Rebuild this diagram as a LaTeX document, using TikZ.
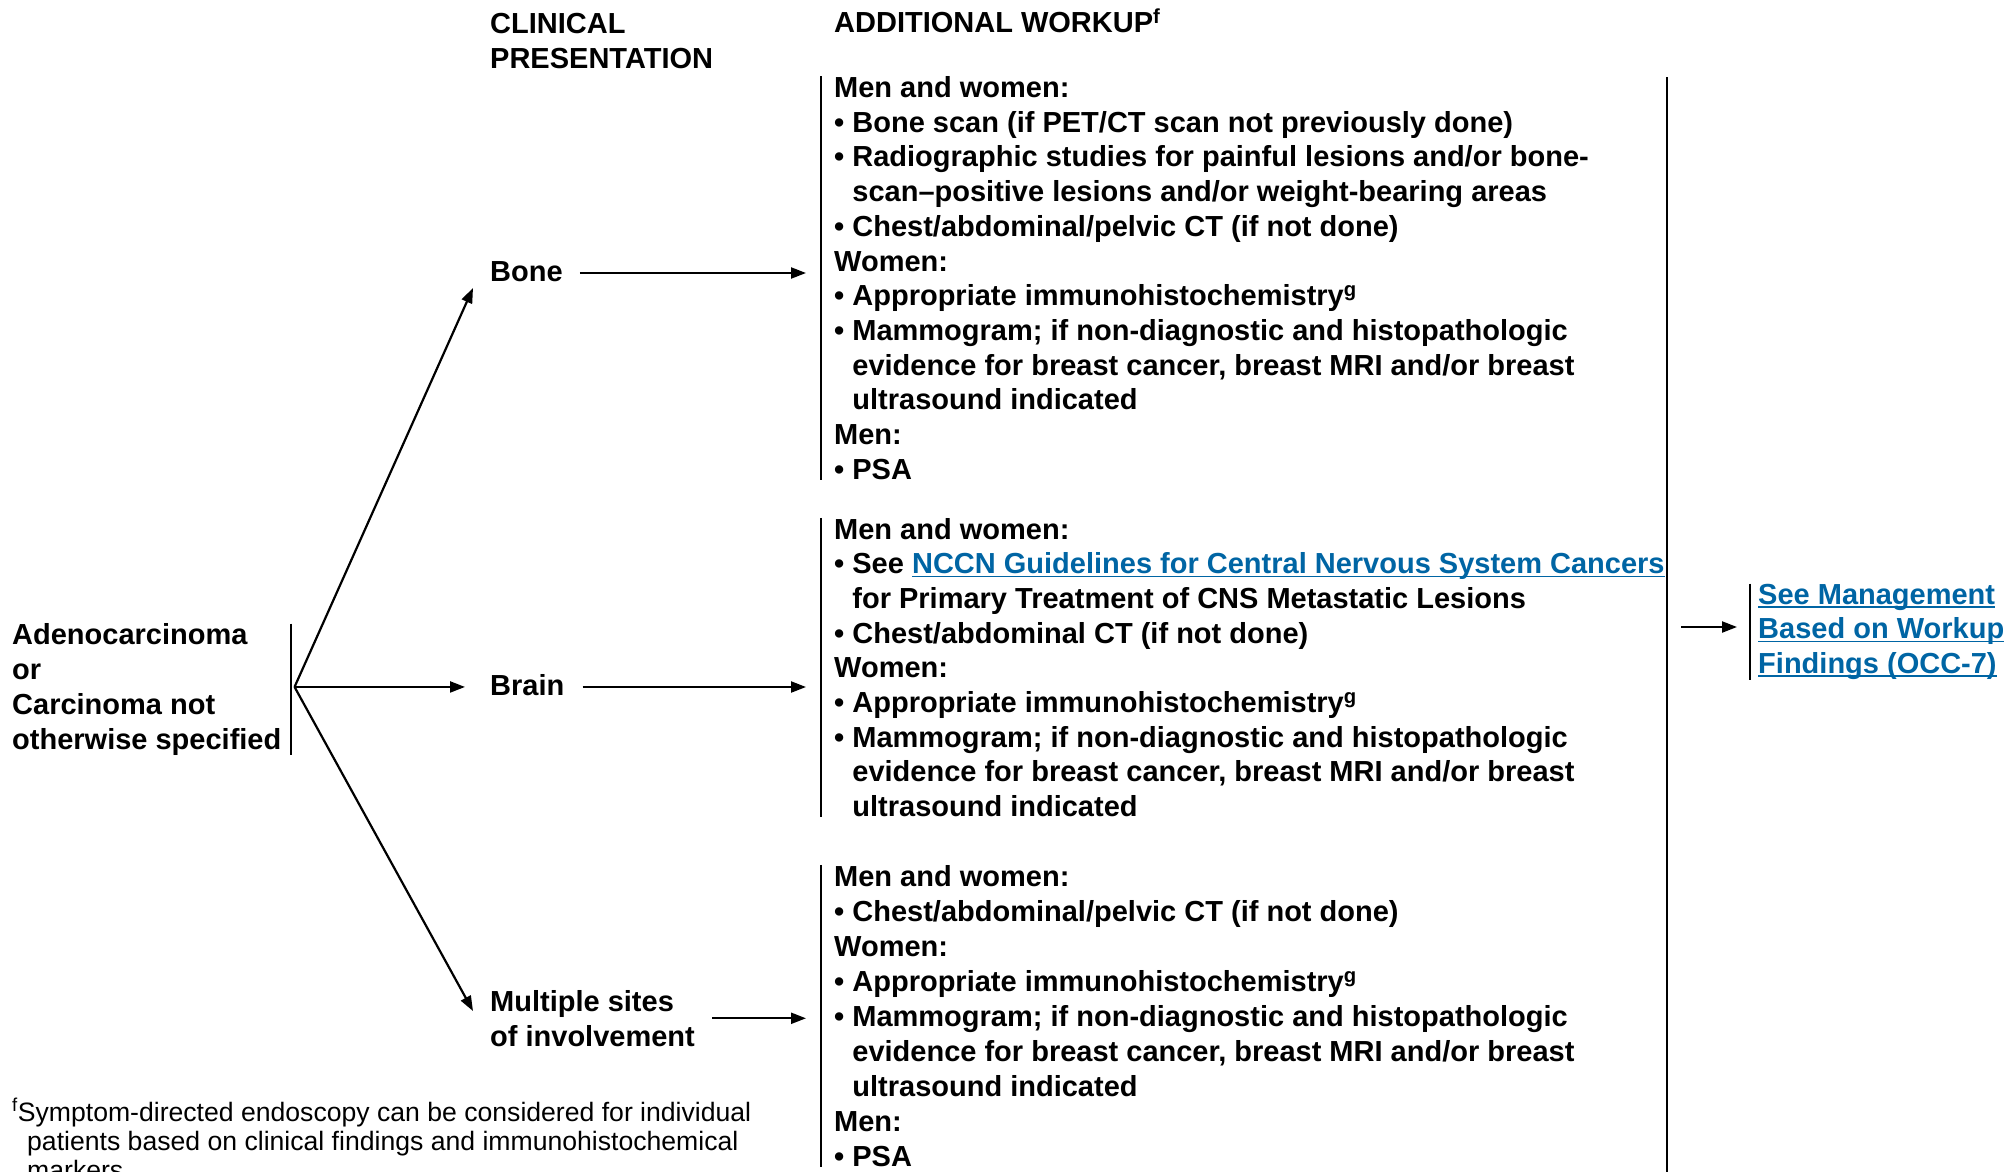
\documentclass[tikz,border=0pt]{standalone}
\usepackage{fontspec}
\setmainfont{Liberation Sans}
\usetikzlibrary{arrows.meta}
\definecolor{linkblue}{RGB}{0,101,164}
\newcommand\ind{\hspace*{0.628em}}
\newcommand\lnk[1]{{\color{linkblue}\setbox0\hbox{#1}\rlap{\rule[-3.5pt]{\wd0}{1.6pt}}\box0}}
\tikzset{
  txt/.style={inner sep=0pt, anchor=base west, align=left, font=\fontsize{29}{34.7}\selectfont\bfseries},
  foot/.style={inner sep=0pt, anchor=base west, align=left, font=\fontsize{26.6}{29}\selectfont},
  arr/.style={line width=2.2pt, -{Triangle[length=15pt,width=11pt]}},
  bar/.style={line width=2pt},
}
\begin{document}
\begin{tikzpicture}[x=1pt,y=-1pt]
\useasboundingbox (0,0) rectangle (2015,1172);
% headers (base anchor = last line)
\node[txt] (hclin) at (490,68) {CLINICAL\\PRESENTATION};
\node[txt] (hadd) at (834,33) {ADDITIONAL WORKUP\textsuperscript{f}};
% left
\node[txt] (adeno) at (12,749) {Adenocarcinoma\\or\\Carcinoma not\\otherwise specified};
\draw[bar] ([xshift=9pt]adeno.north east) -- ([xshift=9pt]adeno.south east);
\coordinate (fork) at ([xshift=13pt,yshift=2.5pt]adeno.east);
% presentations
\node[txt] (bone) at (490,281) {Bone};
\node[txt] (brain) at (490,695) {Brain};
\node[txt] (multi) at (490,1046) {Multiple sites\\of involvement};
% workup blocks
\node[txt] (wbone) at (834,479.2) {Men and women:\\
• Bone scan (if PET/CT scan not previously done)\\
• Radiographic studies for painful lesions and/or bone-\\
\ind scan–positive lesions and/or weight-bearing areas\\
• Chest/abdominal/pelvic CT (if not done)\\
Women:\\
• Appropriate immunohistochemistry\textsuperscript{g}\\
• Mammogram; if non-diagnostic and histopathologic\\
\ind evidence for breast cancer, breast MRI and/or breast\\
\ind ultrasound indicated\\
Men:\\
• PSA};
\node[txt] (wbrain) at (834,816.6) {Men and women:\\
• See \lnk{NCCN Guidelines for Central Nervous System Cancers}\\
\ind for Primary Treatment of CNS Metastatic Lesions\\
• Chest/abdominal CT (if not done)\\
Women:\\
• Appropriate immunohistochemistry\textsuperscript{g}\\
• Mammogram; if non-diagnostic and histopathologic\\
\ind evidence for breast cancer, breast MRI and/or breast\\
\ind ultrasound indicated};
\node[txt, font=\fontsize{29}{35.1}\selectfont\bfseries] (wmulti) at (834,1166.8) {Men and women:\\
• Chest/abdominal/pelvic CT (if not done)\\
Women:\\
• Appropriate immunohistochemistry\textsuperscript{g}\\
• Mammogram; if non-diagnostic and histopathologic\\
\ind evidence for breast cancer, breast MRI and/or breast\\
\ind ultrasound indicated\\
Men:\\
• PSA};
\draw[bar] ([xshift=-13pt]wbone.north west) -- ([xshift=-13pt]wbone.south west);
\draw[bar] ([xshift=-13pt]wbrain.north west) -- ([xshift=-13pt]wbrain.south west);
\draw[bar] ([xshift=-13pt]wmulti.north west) -- ([xshift=-13pt]wmulti.south west);
% management
\node[txt] (mgmt) at (1758,673.4) {\lnk{See Management}\\\lnk{Based on Workup}\\\lnk{Findings (OCC-7)}};
\draw[bar] ([xshift=-8pt]mgmt.north west) -- ([xshift=-8pt]mgmt.south west);
\coordinate (rtop) at (1667,77);
\coordinate (rbot) at (1667,1172);
\draw[bar] (rtop) -- (rbot);
\coordinate (rarr) at (1681,627);
\draw[arr, shorten >=21pt] (rarr) -- (rarr -| mgmt.west);
% arrows from fork
\draw[arr] (fork) -- ([shift={(-17,7)}]bone.base west);
\draw[arr, shorten >=25pt] (fork) -- (fork -| brain.west);
\draw[arr] (fork) -- ([shift={(-17,-35)}]multi.base west);
% arrows to workup
\coordinate (bonearr) at ([shift={(17,-8)}]bone.base east);
\draw[arr, shorten >=28pt] (bonearr) -- (bonearr -| wbone.west);
\coordinate (brainarr) at ([shift={(18,-8)}]brain.base east);
\draw[arr, shorten >=28pt] (brainarr) -- (brainarr -| wbrain.west);
\coordinate (multiarr) at ([xshift=17pt]multi.east);
\draw[arr, shorten >=28pt] (multiarr) -- (multiarr -| wmulti.west);
% footnote
\node[foot] (fn) at (12,1179) {\textsuperscript{f}Symptom-directed endoscopy can be considered for individual\\
\hspace*{15pt}patients based on clinical findings and immunohistochemical\\
\hspace*{15pt}markers};
\end{tikzpicture}
\end{document}
